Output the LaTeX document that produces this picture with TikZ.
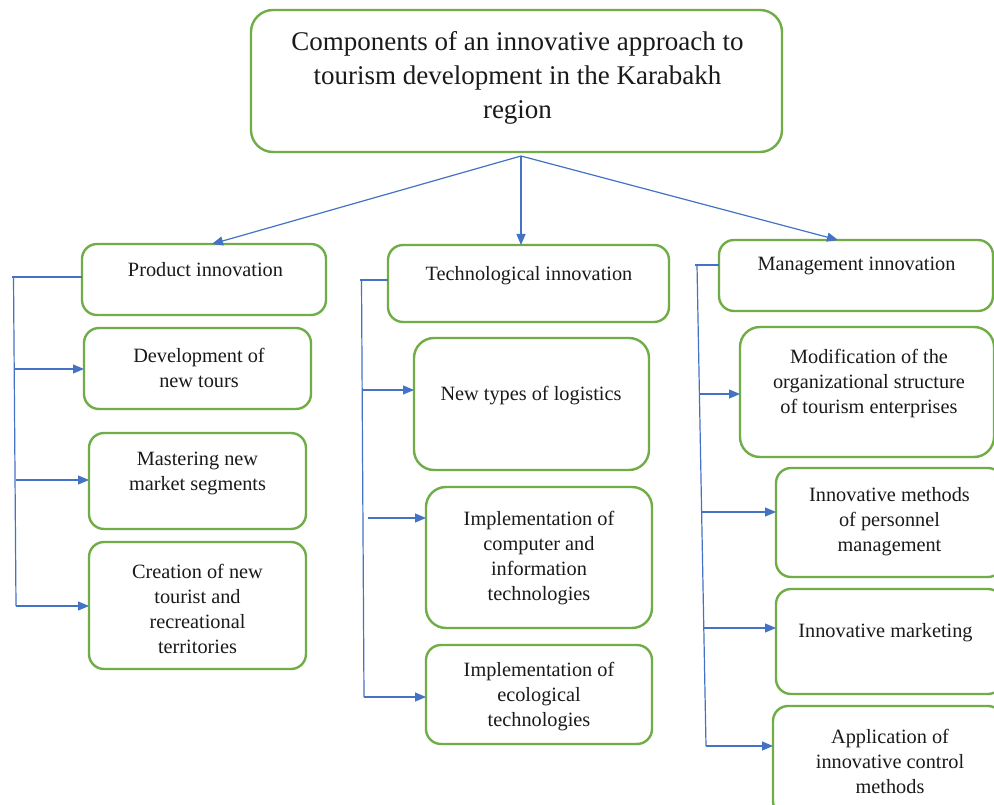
\documentclass[tikz,border=0pt]{standalone}
\usepackage{fontspec}
\setmainfont{Liberation Serif}
\usetikzlibrary{arrows.meta}
\definecolor{boxgreen}{HTML}{70AD47}
\definecolor{arrblue}{HTML}{4472C4}
\definecolor{txt}{HTML}{1A1A1A}
\begin{document}
\begin{tikzpicture}[x=1pt,y=-1pt,
  box/.style={draw=boxgreen, line width=2.4pt, rounded corners=15pt, inner sep=0pt, outer sep=0pt},
  body/.style={font=\fontsize{20.3}{25}\selectfont, align=center, text=txt, inner sep=0pt},
  title/.style={font=\fontsize{27}{34}\selectfont, align=center, text=txt, inner sep=0pt},
  conn/.style={draw=arrblue, line width=1.2pt},
  arr/.style={conn, -{Triangle[length=11pt,width=9pt]}}]
\fill[white] (0,0) rectangle (994,805);
\useasboundingbox (0,0) rectangle (994,805);

% top
\node[box, minimum width=531pt, minimum height=142pt, rounded corners=22pt] (top) at (516.5,81) {};
\node[title] (topt) at (517.5,77.5) {Components of an innovative approach to\\tourism development in the Karabakh\\region};

% product column
\node[box, minimum width=244pt, minimum height=71pt] (prod) at (204,279.5) {};
\node[body] (prodt) at (205.5,270) {Product innovation};
\node[box, minimum width=227pt, minimum height=81pt] (dev) at (197.5,368.5) {};
\node[body] (devt) at (199,368) {Development of\\new tours};
\node[box, minimum width=217pt, minimum height=96pt] (mast) at (197.5,481) {};
\node[body] (mastt) at (197.5,473.5) {Mastering new\\market segments};
\node[box, minimum width=217pt, minimum height=127pt] (crea) at (197.5,605.5) {};
\node[body] (creat) at (197.5,609) {Creation of new\\tourist and\\recreational\\territories};

% technology column
\node[box, minimum width=281pt, minimum height=77pt] (tech) at (528.5,283.5) {};
\node[body] (techt) at (529,276) {Technological innovation};
\node[box, minimum width=235pt, minimum height=132pt, rounded corners=20pt] (logi) at (531.5,404) {};
\node[body] (logit) at (531,396) {New types of logistics};
\node[box, minimum width=226pt, minimum height=141pt, rounded corners=20pt] (comp) at (539,557.5) {};
\node[body] (compt) at (539,558) {Implementation of\\computer and\\information\\technologies};
\node[box, minimum width=226pt, minimum height=99pt] (eco) at (539,694.5) {};
\node[body] (ecot) at (539,697) {Implementation of\\ecological\\technologies};

% management column
\node[box, minimum width=274pt, minimum height=71pt] (mgmt) at (856,275.5) {};
\node[body] (mgmtt) at (856.5,266) {Management innovation};
\node[box, minimum width=254pt, minimum height=130pt, rounded corners=20pt] (modi) at (867,392) {};
\node[body] (modit) at (869,383.5) {Modification of the\\organizational structure\\of tourism enterprises};
\node[box, minimum width=227pt, minimum height=109pt] (meth) at (889.5,522.5) {};
\node[body] (metht) at (889.5,521.5) {Innovative methods\\of personnel\\management};
\node[box, minimum width=227pt, minimum height=105pt] (mark) at (889.5,641.5) {};
\node[body] (markt) at (885.5,633) {Innovative marketing};
\node[box, minimum width=230pt, minimum height=110pt] (appl) at (888,761) {};
\node[body] (applt) at (890,761) {Application of\\innovative control\\methods};

% top arrows
\coordinate (hub) at (521,156);
\draw[arr] (hub) -- ([xshift=8pt]prod.north);
\draw[arr] (hub) -- ([xshift=-7.5pt]tech.north);
\draw[arr] (hub) -- ([xshift=-18pt]mgmt.north);

% product bracket
\coordinate (pa) at (12,277);
\coordinate (pv0) at (13.5,277);
\coordinate (pv1) at (16,606);
\draw[conn] (pa) -- (pa -| prod.west);
\draw[conn] (pv0) -- (pv1);
\coordinate (p1) at (15,369);
\coordinate (p2) at (15.5,480);
\draw[arr] (p1) -- (p1 -| dev.west);
\draw[arr] (p2) -- (p2 -| mast.west);
\draw[arr] (pv1) -- (pv1 -| crea.west);

% technology bracket
\coordinate (ta) at (360,280);
\coordinate (tv0) at (361.5,280);
\coordinate (tv1) at (364,697);
\draw[conn] (ta) -- (ta -| tech.west);
\draw[conn] (tv0) -- (tv1);
\coordinate (t1) at (362.5,390);
\coordinate (t2) at (368,518);
\draw[arr] (t1) -- (t1 -| logi.west);
\draw[arr] (t2) -- (t2 -| comp.west);
\draw[arr] (tv1) -- (tv1 -| eco.west);

% management bracket
\coordinate (ma) at (695,265);
\coordinate (mv0) at (697,265);
\coordinate (mv1) at (706,746);
\draw[conn] (ma) -- (ma -| mgmt.west);
\draw[conn] (mv0) -- (mv1);
\coordinate (m1) at (700,394);
\coordinate (m2) at (702,512);
\coordinate (m3) at (703.5,628);
\draw[arr] (m1) -- (m1 -| modi.west);
\draw[arr] (m2) -- (m2 -| meth.west);
\draw[arr] (m3) -- (m3 -| mark.west);
\draw[arr] (mv1) -- (mv1 -| appl.west);
\end{tikzpicture}
\end{document}
